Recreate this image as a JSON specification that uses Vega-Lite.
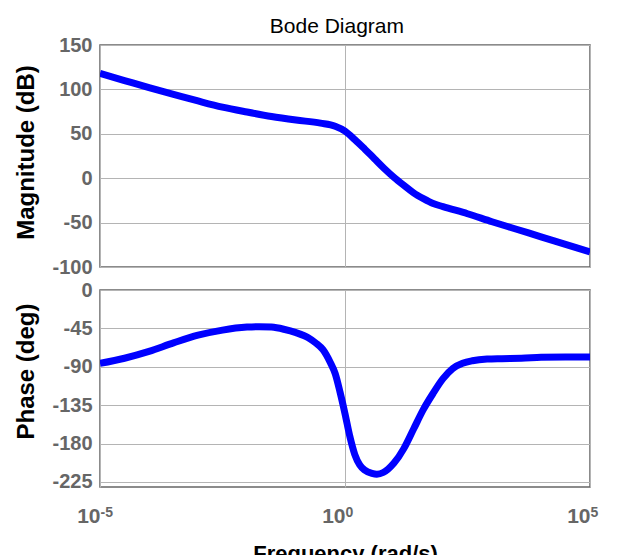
{
  "$schema": "https://vega.github.io/schema/vega-lite/v6.json",
  "background": "white",
  "padding": {"left": 13, "top": 16, "right": 5, "bottom": 5},
  "title": {"text": "Bode Diagram", "fontSize": 21, "fontWeight": "normal", "font": "Liberation Sans", "color": "black", "anchor": "middle", "offset": -3, "dx": 31},
  "spacing": 23,
  "bounds": "flush",
  "datasets": {
    "mag": [
      {"w": 1e-5, "v": 118}, {"w": 3.162e-5, "v": 110}, {"w": 1e-4, "v": 102}, {"w": 3.162e-4, "v": 94.5},
      {"w": 1e-3, "v": 87}, {"w": 3.162e-3, "v": 80}, {"w": 0.01, "v": 74.5}, {"w": 0.03162, "v": 69.5},
      {"w": 0.1, "v": 65.5}, {"w": 0.3162, "v": 62}, {"w": 0.631, "v": 58.5}, {"w": 1, "v": 53},
      {"w": 1.585, "v": 43.5}, {"w": 2.512, "v": 33}, {"w": 3.981, "v": 22}, {"w": 6.31, "v": 11},
      {"w": 10, "v": 1}, {"w": 15.85, "v": -8}, {"w": 25.12, "v": -16.5}, {"w": 39.81, "v": -23},
      {"w": 63.1, "v": -28.5}, {"w": 100, "v": -32}, {"w": 316.2, "v": -40}, {"w": 1000, "v": -49},
      {"w": 3162, "v": -57.5}, {"w": 10000, "v": -66}, {"w": 31623, "v": -74.5}, {"w": 100000, "v": -83}
    ],
    "phase": [
      {"w": 1e-5, "v": -86}, {"w": 3.162e-5, "v": -80}, {"w": 1e-4, "v": -72}, {"w": 3.162e-4, "v": -62},
      {"w": 1e-3, "v": -53}, {"w": 3.162e-3, "v": -47}, {"w": 0.01, "v": -43.5}, {"w": 0.01778, "v": -43},
      {"w": 0.03162, "v": -43.5}, {"w": 0.05623, "v": -46}, {"w": 0.1, "v": -50}, {"w": 0.1778, "v": -56},
      {"w": 0.2512, "v": -62}, {"w": 0.3548, "v": -70}, {"w": 0.5012, "v": -85}, {"w": 0.631, "v": -98},
      {"w": 0.7943, "v": -120}, {"w": 1, "v": -145}, {"w": 1.259, "v": -172}, {"w": 1.585, "v": -193},
      {"w": 1.995, "v": -205}, {"w": 2.512, "v": -211}, {"w": 3.548, "v": -215}, {"w": 4.467, "v": -216},
      {"w": 6.026, "v": -214}, {"w": 7.586, "v": -210}, {"w": 10, "v": -203}, {"w": 15.85, "v": -186},
      {"w": 25.12, "v": -163}, {"w": 39.81, "v": -140}, {"w": 63.1, "v": -121}, {"w": 100, "v": -104},
      {"w": 158.5, "v": -92}, {"w": 251.2, "v": -86}, {"w": 398.1, "v": -83}, {"w": 794.3, "v": -81},
      {"w": 1585, "v": -80.5}, {"w": 3981, "v": -80}, {"w": 10000, "v": -79}, {"w": 31623, "v": -78.5},
      {"w": 100000, "v": -78.5}
    ]
  },
  "vconcat": [
    {
      "width": 490,
      "height": 222,
      "data": {"name": "mag"},
      "mark": {"type": "line", "color": "#0000FF", "strokeWidth": 7, "interpolate": "monotone", "clip": true},
      "encoding": {
        "x": {
          "field": "w", "type": "quantitative",
          "scale": {"type": "log", "domain": [1e-5, 100000], "nice": false},
          "axis": {"values": [1e-5, 1, 100000], "labels": false, "ticks": false, "domain": false, "title": null, "grid": true}
        },
        "y": {
          "field": "v", "type": "quantitative",
          "scale": {"domain": [-100, 150], "nice": false, "zero": false},
          "axis": {"values": [-100, -50, 0, 50, 100, 150], "labelOverlap": false, "labelExpr": "replace(datum.label, '−', '-')", "title": "Magnitude (dB)", "titleX": -62, "titleY": 107}
        }
      }
    },
    {
      "width": 490,
      "height": 197,
      "data": {"name": "phase"},
      "layer": [
        {
          "mark": {"type": "line", "color": "#0000FF", "strokeWidth": 7, "interpolate": "monotone", "clip": true},
          "encoding": {
            "x": {
              "field": "w", "type": "quantitative",
              "scale": {"type": "log", "domain": [1e-5, 100000], "nice": false},
              "axis": {
                "orient": "bottom",
                "values": [1e-5, 1, 100000],
                "labelExpr": "'10'",
                "labelFlush": false, "labelOverlap": false, "labelPadding": 18,
                "labelFontSize": 21, "labelAlign": "right", "labelDx": 8,
                "ticks": false, "domain": false, "grid": true,
                "title": "Frequency  (rad/s)", "titleFontSize": 22, "titlePadding": 17
              }
            },
            "y": {
              "field": "v", "type": "quantitative",
              "scale": {"domain": [-231, 0], "nice": false, "zero": false},
              "axis": {"values": [-225, -180, -135, -90, -45, 0], "labelOverlap": false, "labelExpr": "replace(datum.label, '−', '-')", "title": "Phase (deg)", "titleX": -62, "titleY": 81}
            }
          }
        },
        {
          "mark": {"type": "point", "opacity": 0, "clip": true},
          "encoding": {
            "x": {
              "field": "w", "type": "quantitative",
              "scale": {"type": "log", "domain": [1e-5, 100000], "nice": false},
              "axis": {
                "orient": "bottom",
                "values": [1e-5, 1, 100000],
                "labelExpr": "datum.value < 0.01 ? '-5' : (datum.value < 10 ? '0' : '5')",
                "labelFlush": false, "labelOverlap": false, "labelPadding": 18,
                "labelFontSize": 14, "labelAlign": "left", "labelDx": 9, "labelDy": -7,
                "ticks": false, "domain": false, "grid": false, "title": null
              }
            }
          }
        }
      ],
      "resolve": {"axis": {"x": "independent"}}
    }
  ],
  "config": {
    "font": "Liberation Sans",
    "view": {"stroke": "#666666", "strokeWidth": 1.5},
    "axis": {
      "labelFont": "Liberation Sans",
      "labelFontSize": 20,
      "labelFontWeight": "bold",
      "labelColor": "#666666",
      "labelPadding": 8,
      "labelOverlap": false,
      "ticks": false,
      "domain": false,
      "gridColor": "#b4b4b4",
      "gridWidth": 1,
      "gridOpacity": 1,
      "titleFont": "Liberation Sans",
      "titleFontSize": 24,
      "titleFontWeight": "bold",
      "titleColor": "black"
    }
  }
}
